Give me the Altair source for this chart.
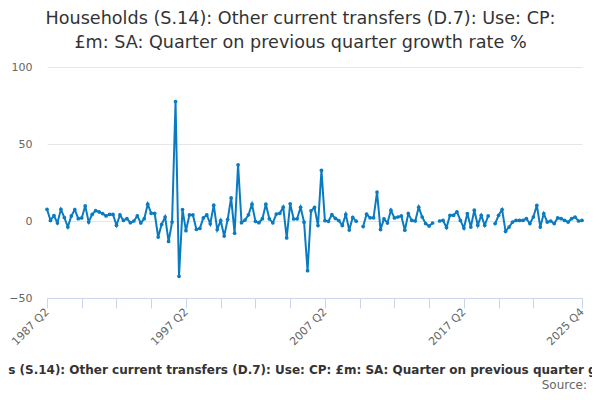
import altair as alt
import pandas as pd

start_year, start_q = 1987, 2

growth = [
    7.6, 0.4, 3.5, -1.3, 7.6, 2.2, -3.9, 3.3, 7.4, 1.5,
    2.0, 9.8, -0.7, 4.3, 6.7, 5.9, 4.8, 3.3, 4.3, 4.3,
    -2.8, 3.9, 0.4, 1.5, -1.1, 0.0, 3.3, -1.3, 1.5, 10.9,
    5.0, 5.0, -10.4, -2.2, 2.6, -13.3, -0.7, 77.6, -35.9, 7.4,
    -6.3, 3.9, 3.9, -5.4, -4.8, 2.0, 4.0, -1.8, 10.3, -5.6,
    0.3, -9.8, 0.9, 15.0, -7.9, 36.5, -1.1, 0.6, 4.0, 10.9,
    -0.2, -1.1, 1.5, 10.9, 1.4, -1.2, 4.5, 5.0, 9.0, -11.0,
    11.2, 1.3, 1.4, 8.9, -0.8, -32.3, 6.6, 8.8, -3.0, 32.9,
    0.2, -0.2, 4.1, 1.7, 0.3, -2.9, 4.3, -5.9, 2.3, -0.1,
    None, -3.6, 4.4, 2.1, 2.1, 18.8, -5.6, 1.4, -1.3, 7.0,
    2.0, 2.6, 3.3, -6.0, 4.8, 0.4, 0.0, 9.0, 2.6, -1.7,
    -3.3, -1.3, None, 0.0, 0.4, -4.3, 3.7, 3.7, 6.0, 0.4,
    -4.6, 4.8, -3.9, 7.0, -2.8, 3.7, -2.8, 3.3, None, -1.7,
    3.7, 7.4, -6.7, -3.9, -0.7, 0.4, 0.4, 0.4, 1.5, -1.7,
    2.6, 10.2, -3.9, 4.8, -0.7, 0.0, -1.7, 2.0, 1.5, 0.4,
    -0.7, 1.5, 2.6, 0.0, 0.4,
]

tick_idx = [0, 10, 20, 30, 40, 50, 60, 70, 80, 90, 100, 110, 120, 130, 140, 154]
label_text = ["1987 Q2", "1997 Q2", "2007 Q2", "2017 Q2", "2025 Q4"]
y_ticks = [-50, 0, 50, 100]

title_lines = [
    "Households (S.14): Other current transfers (D.7): Use: CP:",
    "£m: SA: Quarter on previous quarter growth rate %",
]
x_title = ("Households (S.14): Other current transfers (D.7): Use: CP: £m: SA: "
           "Quarter on previous quarter growth rate %")
source_text = ["Source:"]

periods = []
for i in range(len(growth)):
    q = start_q - 1 + i
    periods.append(f"{start_year + q // 4} Q{q % 4 + 1}")

df = pd.DataFrame({"period": periods, "value": growth})

tick_values = [periods[i] for i in tick_idx]
label_list = ", ".join(f"'{t}'" for t in label_text)
label_expr = f"indexof([{label_list}], datum.value) >= 0 ? datum.value : ''"

FONT = "DejaVu Sans"
BLUE = "#0b7bc1"

x_enc = alt.X(
    "period:O",
    sort=None,
    scale=alt.Scale(type="point", padding=0, domain=periods),
    axis=alt.Axis(
        values=tick_values,
        labelExpr=label_expr,
        labelAngle=315,
        labelAlign="right",
        labelBaseline="middle",
        labelColor="#666666",
        labelFontSize=11,
        labelFont=FONT,
        labelPadding=2,
        labelOverlap=False,
        labelFlush=False,
        labelBound=False,
        domainColor="#ccd6eb",
        tickColor="#ccd6eb",
        tickSize=10,
        grid=False,
        title=x_title,
        titleFont=FONT,
        titleFontSize=12,
        titleFontWeight="bold",
        titleColor="#333333",
        titleX=263,
        titleY=71,
        titleBaseline="middle",
        titleAlign="center",
    ),
)
y_enc = alt.Y(
    "value:Q",
    scale=alt.Scale(domain=[-50, 100], nice=False),
    axis=alt.Axis(
        values=y_ticks,
        title=None,
        domain=False,
        ticks=False,
        labelPadding=15,
        labelColor="#666666",
        labelFontSize=11,
        labelFont=FONT,
        gridColor="#e6e6e6",
        gridWidth=1,
    ),
)

line = alt.Chart(df).mark_line(color=BLUE, strokeWidth=2).encode(x=x_enc, y=y_enc)
pts = alt.Chart(df).mark_point(filled=True, color=BLUE, size=14, opacity=1).encode(
    x=alt.X("period:O", sort=None), y="value:Q", tooltip=["period:N", "value:Q"]
)
src = alt.Chart(pd.DataFrame({"t": source_text})).mark_text(
    align="right", baseline="middle", font=FONT, fontSize=12, color="#666666"
).encode(x=alt.value(540), y=alt.value(318), text="t:N")

chart = (
    alt.layer(line, pts, src)
    .properties(
        width=535,
        height=231,
        autosize=alt.AutoSizeParams(type="none"),
        padding={"left": 39, "top": 59, "right": 10, "bottom": 94},
        title=alt.TitleParams(
            text=title_lines,
            font=FONT,
            fontSize=17.6,
            fontWeight="normal",
            color="#333333",
            anchor="middle",
            dx=-14,
            offset=9,
            lineHeight=24,
        ),
    )
    .configure_view(stroke=None)
)

chart.save("out.html", embed_options={"renderer": "svg", "actions": False})
